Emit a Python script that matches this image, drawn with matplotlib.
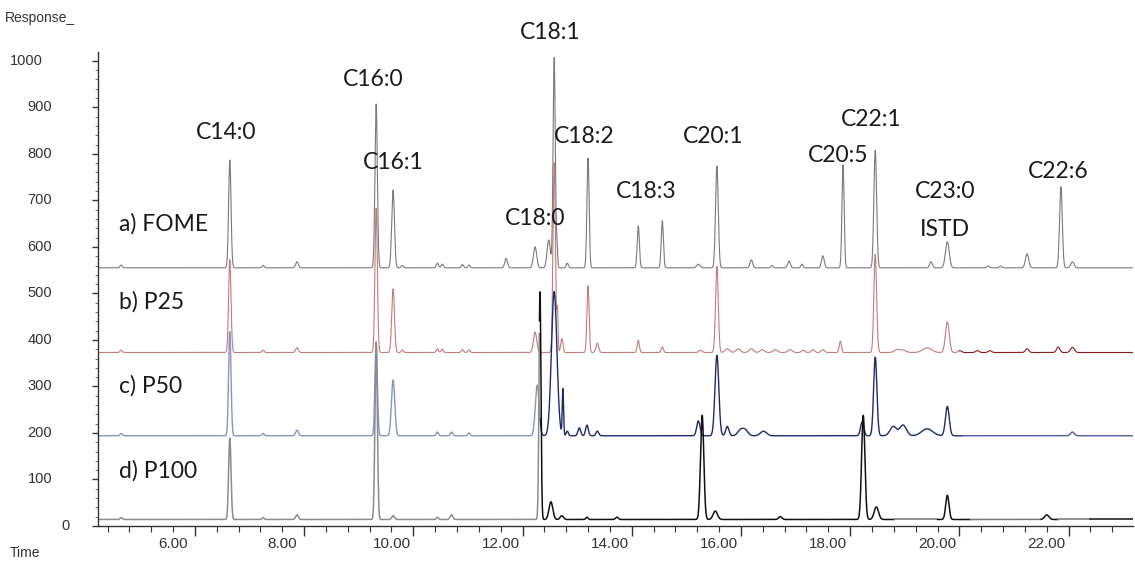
import numpy as np
import matplotlib.pyplot as plt
from matplotlib.ticker import FixedLocator, MultipleLocator

# ---- peak tables: retention time (min), height above baseline, sigma (min)
fome_base = 555
fome_rt = [5.05, 7.04, 7.65, 8.27, 9.72, 10.03, 10.20, 10.84, 10.93, 11.30, 11.42, 12.10, 12.63,
           12.88, 12.98, 13.03, 13.22, 13.60, 14.52, 14.96, 15.62, 15.96, 16.59, 16.97, 17.28,
           17.52, 17.90, 18.27, 18.86, 19.88, 20.18, 20.93, 21.15, 21.64, 22.26, 22.47]
fome_h = [6, 232, 5, 13, 352, 167, 5, 10, 8, 7, 6, 20, 45,
          60, 452, 45, 10, 236, 90, 101, 8, 219, 17, 5, 14,
          8, 26, 221, 253, 13, 56, 4, 4, 30, 174, 13]
fome_w = [0.02, 0.022, 0.02, 0.025, 0.022, 0.025, 0.02, 0.02, 0.02, 0.02, 0.02, 0.025, 0.03,
          0.03, 0.02, 0.012, 0.02, 0.02, 0.02, 0.02, 0.03, 0.025, 0.025, 0.02, 0.025,
          0.02, 0.025, 0.02, 0.025, 0.025, 0.035, 0.02, 0.02, 0.03, 0.025, 0.03]

p25_base = 373
p25_rt = [5.05, 7.04, 7.65, 8.27, 9.72, 10.03, 10.20, 10.84, 10.93, 11.30, 11.42, 12.63, 12.98,
          13.04, 13.12, 13.60, 13.77, 14.52, 14.96, 15.66, 15.96, 16.15, 16.35, 16.59, 16.79,
          17.03, 17.30, 17.54, 17.72, 17.90, 18.22, 18.86, 19.26, 19.37, 19.81, 20.18, 20.41,
          20.73, 20.96, 21.64, 22.21, 22.47]
p25_h = [5, 200, 5, 10, 310, 137, 5, 8, 7, 6, 5, 44, 408,
         90, 30, 143, 20, 26, 12, 5, 185, 8, 8, 8, 6,
         6, 6, 5, 6, 6, 24, 212, 6, 5, 10, 66, 4,
         4, 4, 8, 12, 11]
p25_w = [0.02, 0.022, 0.02, 0.025, 0.022, 0.025, 0.02, 0.02, 0.02, 0.02, 0.02, 0.03, 0.022,
         0.012, 0.02, 0.02, 0.025, 0.02, 0.02, 0.03, 0.025, 0.04, 0.04, 0.04, 0.04,
         0.04, 0.04, 0.03, 0.03, 0.03, 0.02, 0.025, 0.05, 0.05, 0.08, 0.035, 0.03,
         0.03, 0.03, 0.03, 0.03, 0.035]

p50_base = 194
p50_rt = [5.05, 7.04, 7.65, 8.27, 9.72, 10.03, 10.84, 11.10, 11.42, 12.67, 12.98, 13.14, 13.22,
          13.44, 13.58, 13.77, 15.62, 15.96, 16.15, 16.39, 16.48, 16.79, 16.84, 18.62, 18.86,
          19.19, 19.37, 19.81, 20.18, 22.47]
p50_h = [5, 224, 5, 12, 202, 120, 8, 8, 6, 109, 310, 100, 10,
         17, 23, 10, 32, 173, 20, 12, 12, 6, 5, 30, 169,
         20, 23, 15, 63, 8]
p50_w = [0.02, 0.022, 0.02, 0.025, 0.022, 0.03, 0.02, 0.02, 0.02, 0.035, 0.05, 0.012, 0.02,
         0.025, 0.025, 0.025, 0.03, 0.035, 0.03, 0.05, 0.05, 0.05, 0.05, 0.03, 0.03,
         0.06, 0.06, 0.1, 0.035, 0.035]

p100_base = 14
p100_rt = [5.05, 7.04, 7.65, 8.27, 9.72, 10.03, 10.84, 11.10, 12.72, 12.92, 13.12, 13.58, 14.13,
           15.69, 15.93, 17.12, 18.64, 18.88, 20.18, 22.00]
p100_h = [4, 175, 4, 10, 380, 8, 5, 10, 490, 38, 8, 5, 5,
          224, 18, 6, 224, 27, 52, 10]
p100_w = [0.02, 0.022, 0.02, 0.025, 0.022, 0.025, 0.02, 0.025, 0.018, 0.035, 0.03, 0.02, 0.025,
          0.03, 0.04, 0.03, 0.03, 0.04, 0.03, 0.04]

sample_names = ["a) FOME", "b) P25", "c) P50", "d) P100"]
peak_names = ["C14:0", "C16:0", "C16:1", "C18:1", "C18:2", "C18:0", "C18:3",
              "C20:1", "C20:5", "C22:1", "C23:0", "ISTD", "C22:6"]

yticks = list(range(0, 1001, 100))
xlabels = ["6.00", "8.00", "10.00", "12.00", "14.00", "16.00", "18.00", "20.00", "22.00"]
xlabel_pos = [6, 8, 10, 12, 14, 16, 18, 20, 22]

t = np.linspace(4.62, 23.6, 9000)


def trace(base, rts, hs, ws):
    y = np.full_like(t, float(base))
    for rt, h, w in zip(rts, hs, ws):
        y += h * np.exp(-0.5 * ((t - rt) / w) ** 2)
    return y


def plot_segments(ax, y, breaks, colors, lw):
    # chemstation colours parts of a trace differently
    edges = [t[0]] + breaks + [t[-1]]
    for i, c in enumerate(colors):
        m = (t >= edges[i]) & (t <= edges[i + 1])
        ax.plot(t[m], y[m], color=c, lw=lw, solid_joinstyle='round')


fig = plt.figure(figsize=(11.35, 5.63), dpi=100)
ax = fig.add_axes([98 / 1135, 1 - 526 / 563, (1133 - 98) / 1135, (526 - 52) / 563])

plot_segments(ax, trace(fome_base, fome_rt, fome_h, fome_w), [], ['#7a7a7a'], 0.8)
plot_segments(ax, trace(p25_base, p25_rt, p25_h, p25_w), [20.4], ['#c27b7b', '#8b1a1a'], 0.8)
plot_segments(ax, trace(p50_base, p50_rt, p50_h, p50_w), [12.72, 20.45],
              ['#8a94bd', '#1d2b6b', '#4e5d9a'], 1.0)
plot_segments(ax, trace(p100_base, p100_rt, p100_h, p100_w),
              [12.71, 19.2, 20.0, 20.6, 21.9, 22.2, 22.8],
              ['#8c8c8c', '#111111', '#777777', '#111111', '#777777', '#111111', '#777777', '#111111'], 1.1)

ax.set_xlim(4.626, 23.58)
ax.set_ylim(0, 1019)
for s in ['top', 'right']:
    ax.spines[s].set_visible(False)
for s in ['left', 'bottom']:
    ax.spines[s].set_color('#333333')
    ax.spines[s].set_linewidth(1.0)

ax.xaxis.set_major_locator(FixedLocator(np.arange(6.4, 23.5, 2.0)))
ax.xaxis.set_minor_locator(MultipleLocator(0.4))
ax.yaxis.set_major_locator(FixedLocator(yticks))
ax.yaxis.set_minor_locator(MultipleLocator(20))
ax.tick_params(axis='x', which='major', length=7, width=1, color='#333333', labelbottom=False)
ax.tick_params(axis='x', which='minor', length=4, width=0.8, color='#333333')
ax.tick_params(axis='y', which='major', length=4, width=1, color='#333333', labelleft=False)
ax.tick_params(axis='y', which='minor', length=2, width=0.6, color='#555555')

# tick labels placed the way the instrument software does it
tick_font = dict(family='Liberation Sans', color='#333333')
for v in yticks:
    lab = str(v)
    xr = -0.0444
    if v == 0:
        xr = -0.0271
    elif v == 1000:
        xr = -0.0531
    ax.text(xr, v, lab, transform=ax.get_yaxis_transform(), ha='right', va='center',
            fontsize=10.5, **tick_font)
for p, lab in zip(xlabel_pos, xlabels):
    ax.text(p, -0.038, lab, transform=ax.get_xaxis_transform(), ha='center', va='center',
            fontsize=11, **tick_font)

fig.text(5 / 1135, 1 - 18 / 563, "Response_", ha='left', va='center', fontsize=10, **tick_font)
fig.text(10 / 1135, 1 - 553 / 563, "Time", ha='left', va='center', fontsize=10, **tick_font)

label_font = dict(family='Lato', color='#1a1a1a', fontsize=16.5)
peak_xy = [(6.97, 845), (9.66, 959), (10.03, 782), (12.90, 1060), (13.53, 838), (12.63, 660),
           (14.66, 720), (15.89, 838), (18.18, 797), (18.78, 873), (20.14, 720), (20.14, 638),
           (22.21, 763)]
for name, (x, y) in zip(peak_names, peak_xy):
    ax.text(x, y, name, ha='center', va='center', clip_on=False, **label_font)

sample_y = [649, 482, 301, 118]
for name, y in zip(sample_names, sample_y):
    ax.text(5.01, y, name, ha='left', va='center', **label_font)

fig.savefig("out.png", dpi=100)
